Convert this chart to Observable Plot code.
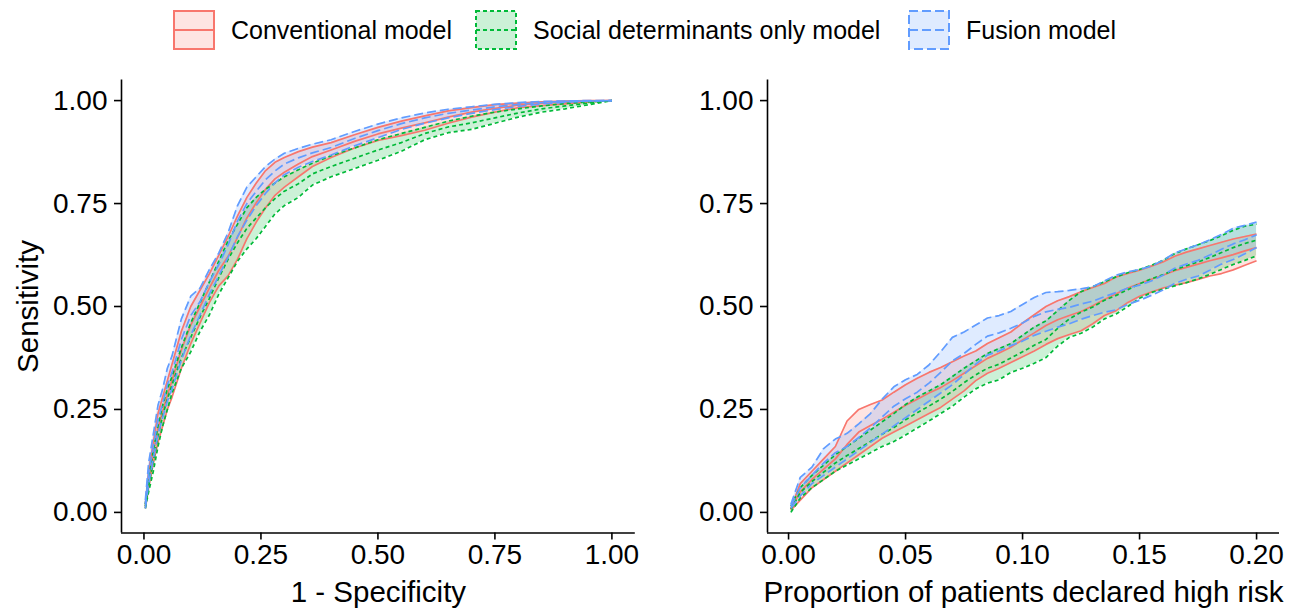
<!DOCTYPE html>
<html><head><meta charset="utf-8">
<script src="https://cdn.jsdelivr.net/npm/d3@7"></script>
<script src="https://cdn.jsdelivr.net/npm/@observablehq/plot@0.6"></script>
<style>
body{margin:0;background:#fff;font-family:"Liberation Sans",Arial,sans-serif;}
#wrap{position:relative;width:1310px;height:609px;overflow:hidden;}
#legend{position:relative;height:60px;}
.item{position:absolute;top:10px;display:flex;align-items:center;height:40px;}
.item span{font-size:25px;margin-left:16px;color:#000;white-space:nowrap;}
#row{display:flex;}
#row svg{display:block;}
</style></head><body>
<div id="wrap"><div id="legend"></div><div id="row"></div></div>
<script>
// ---------- legend / series ----------
const modelNames = ["Conventional model", "Social determinants only model", "Fusion model"];
const modelColors = ["#F8766D", "#00BA38", "#619CFF"];
const modelDashes = ["none", "4,3", "9,4"];

// ---------- left panel: ROC (1 - specificity vs sensitivity) ----------
const rocFpr = [0.003, 0.01, 0.02, 0.03, 0.04, 0.05, 0.06, 0.08, 0.10, 0.12, 0.14, 0.16, 0.18, 0.20, 0.22, 0.24, 0.26, 0.28, 0.30, 0.33, 0.36, 0.40, 0.45, 0.50, 0.55, 0.60, 0.65, 0.70, 0.75, 0.80, 0.85, 0.90, 0.95, 1.00];
const rocConvLow  = [0.01, 0.06, 0.12, 0.17, 0.21, 0.25, 0.28, 0.35, 0.41, 0.46, 0.51, 0.55, 0.575, 0.615, 0.665, 0.705, 0.74, 0.77, 0.79, 0.815, 0.84, 0.862, 0.885, 0.903, 0.915, 0.928, 0.945, 0.96, 0.972, 0.983, 0.988, 0.992, 0.997, 1.0];
const rocConvMean = [0.015, 0.08, 0.145, 0.205, 0.245, 0.285, 0.32, 0.395, 0.455, 0.50, 0.545, 0.588, 0.622, 0.668, 0.715, 0.752, 0.785, 0.81, 0.826, 0.846, 0.864, 0.88, 0.901, 0.919, 0.933, 0.946, 0.96, 0.972, 0.981, 0.989, 0.993, 0.996, 0.999, 1.0];
const rocConvHigh = [0.02, 0.10, 0.17, 0.24, 0.28, 0.32, 0.36, 0.44, 0.50, 0.54, 0.58, 0.625, 0.67, 0.72, 0.765, 0.80, 0.83, 0.85, 0.862, 0.876, 0.887, 0.898, 0.917, 0.935, 0.95, 0.963, 0.975, 0.983, 0.99, 0.994, 0.997, 0.999, 1.0, 1.0];
const rocSdohLow  = [0.01, 0.05, 0.10, 0.16, 0.21, 0.25, 0.29, 0.35, 0.39, 0.44, 0.48, 0.53, 0.57, 0.61, 0.64, 0.665, 0.695, 0.725, 0.745, 0.765, 0.795, 0.815, 0.835, 0.855, 0.877, 0.905, 0.922, 0.93, 0.945, 0.96, 0.972, 0.98, 0.99, 1.0];
const rocSdohMean = [0.015, 0.065, 0.125, 0.185, 0.235, 0.275, 0.31, 0.375, 0.425, 0.475, 0.52, 0.57, 0.615, 0.655, 0.69, 0.715, 0.74, 0.762, 0.78, 0.798, 0.822, 0.84, 0.86, 0.88, 0.898, 0.92, 0.936, 0.946, 0.958, 0.97, 0.98, 0.987, 0.994, 1.0];
const rocSdohHigh = [0.02, 0.08, 0.15, 0.21, 0.26, 0.30, 0.33, 0.40, 0.46, 0.51, 0.56, 0.61, 0.66, 0.70, 0.74, 0.765, 0.785, 0.80, 0.815, 0.832, 0.848, 0.866, 0.885, 0.905, 0.92, 0.935, 0.95, 0.962, 0.972, 0.98, 0.987, 0.993, 0.997, 1.0];
const rocFusLow   = [0.01, 0.07, 0.13, 0.19, 0.23, 0.27, 0.30, 0.37, 0.43, 0.48, 0.53, 0.575, 0.62, 0.67, 0.71, 0.745, 0.775, 0.80, 0.82, 0.838, 0.852, 0.868, 0.89, 0.91, 0.93, 0.945, 0.958, 0.969, 0.978, 0.986, 0.992, 0.996, 0.999, 1.0];
const rocFusMean  = [0.02, 0.095, 0.16, 0.225, 0.265, 0.31, 0.34, 0.42, 0.478, 0.512, 0.56, 0.602, 0.65, 0.708, 0.75, 0.78, 0.808, 0.829, 0.846, 0.861, 0.873, 0.886, 0.908, 0.927, 0.944, 0.958, 0.969, 0.977, 0.985, 0.991, 0.995, 0.998, 0.999, 1.0];
const rocFusHigh  = [0.03, 0.12, 0.19, 0.26, 0.30, 0.35, 0.38, 0.47, 0.525, 0.545, 0.59, 0.63, 0.68, 0.745, 0.79, 0.815, 0.84, 0.858, 0.872, 0.884, 0.894, 0.905, 0.925, 0.943, 0.958, 0.97, 0.979, 0.985, 0.991, 0.995, 0.998, 0.999, 1.0, 1.0];

// ---------- right panel: proportion declared high risk vs sensitivity ----------
const propX = [0.001, 0.005, 0.010, 0.015, 0.020, 0.025, 0.030, 0.035, 0.040, 0.045, 0.050, 0.055, 0.060, 0.065, 0.070, 0.075, 0.080, 0.085, 0.090, 0.095, 0.100, 0.105, 0.110, 0.115, 0.120, 0.125, 0.130, 0.135, 0.140, 0.145, 0.150, 0.155, 0.160, 0.165, 0.170, 0.175, 0.180, 0.185, 0.190, 0.195, 0.200];
const propConvLow  = [0.005, 0.03, 0.06, 0.08, 0.10, 0.12, 0.14, 0.16, 0.18, 0.195, 0.21, 0.225, 0.24, 0.255, 0.275, 0.295, 0.32, 0.338, 0.35, 0.364, 0.378, 0.392, 0.408, 0.422, 0.432, 0.441, 0.458, 0.478, 0.49, 0.51, 0.525, 0.535, 0.545, 0.552, 0.558, 0.566, 0.574, 0.58, 0.589, 0.6, 0.611];
const propConvMean = [0.008, 0.05, 0.08, 0.105, 0.13, 0.165, 0.195, 0.211, 0.226, 0.243, 0.26, 0.275, 0.29, 0.303, 0.32, 0.338, 0.356, 0.374, 0.387, 0.401, 0.419, 0.436, 0.454, 0.468, 0.478, 0.488, 0.502, 0.517, 0.531, 0.545, 0.556, 0.566, 0.576, 0.587, 0.595, 0.603, 0.611, 0.618, 0.626, 0.635, 0.643];
const propConvHigh = [0.01, 0.07, 0.10, 0.13, 0.16, 0.222, 0.25, 0.262, 0.273, 0.292, 0.31, 0.326, 0.34, 0.352, 0.366, 0.38, 0.392, 0.41, 0.424, 0.438, 0.46, 0.48, 0.5, 0.514, 0.524, 0.536, 0.546, 0.556, 0.572, 0.58, 0.588, 0.598, 0.608, 0.622, 0.632, 0.64, 0.648, 0.656, 0.664, 0.67, 0.676];
const propSdohLow  = [0.0, 0.035, 0.06, 0.08, 0.10, 0.115, 0.13, 0.145, 0.16, 0.172, 0.188, 0.205, 0.222, 0.24, 0.258, 0.28, 0.3, 0.314, 0.322, 0.34, 0.35, 0.362, 0.376, 0.404, 0.425, 0.435, 0.45, 0.47, 0.482, 0.5, 0.52, 0.534, 0.542, 0.55, 0.558, 0.567, 0.578, 0.59, 0.602, 0.612, 0.623];
const propSdohMean = [0.008, 0.048, 0.075, 0.098, 0.12, 0.138, 0.155, 0.172, 0.19, 0.206, 0.225, 0.242, 0.258, 0.275, 0.294, 0.315, 0.334, 0.35, 0.36, 0.375, 0.39, 0.406, 0.42, 0.447, 0.47, 0.486, 0.499, 0.515, 0.527, 0.541, 0.555, 0.567, 0.577, 0.589, 0.599, 0.608, 0.619, 0.631, 0.643, 0.653, 0.661];
const propSdohHigh = [0.015, 0.06, 0.09, 0.115, 0.14, 0.16, 0.18, 0.20, 0.22, 0.24, 0.262, 0.28, 0.295, 0.31, 0.33, 0.35, 0.368, 0.386, 0.398, 0.41, 0.43, 0.45, 0.465, 0.49, 0.515, 0.536, 0.548, 0.56, 0.572, 0.582, 0.59, 0.6, 0.612, 0.628, 0.64, 0.65, 0.66, 0.672, 0.685, 0.695, 0.70];
const propFusLow   = [0.01, 0.04, 0.07, 0.09, 0.11, 0.13, 0.15, 0.17, 0.19, 0.21, 0.23, 0.25, 0.27, 0.29, 0.31, 0.335, 0.36, 0.382, 0.392, 0.405, 0.416, 0.43, 0.44, 0.45, 0.458, 0.469, 0.478, 0.486, 0.492, 0.505, 0.515, 0.527, 0.54, 0.556, 0.566, 0.574, 0.588, 0.603, 0.614, 0.628, 0.643];
const propFusMean  = [0.015, 0.06, 0.09, 0.12, 0.145, 0.16, 0.182, 0.205, 0.232, 0.258, 0.276, 0.292, 0.314, 0.34, 0.368, 0.386, 0.408, 0.428, 0.436, 0.447, 0.46, 0.476, 0.487, 0.493, 0.498, 0.506, 0.513, 0.524, 0.534, 0.545, 0.552, 0.562, 0.576, 0.593, 0.603, 0.612, 0.625, 0.639, 0.652, 0.662, 0.674];
const propFusHigh  = [0.02, 0.085, 0.11, 0.155, 0.178, 0.192, 0.215, 0.24, 0.275, 0.305, 0.322, 0.335, 0.358, 0.39, 0.425, 0.438, 0.455, 0.472, 0.478, 0.488, 0.505, 0.522, 0.534, 0.536, 0.539, 0.543, 0.548, 0.562, 0.576, 0.584, 0.59, 0.598, 0.612, 0.63, 0.64, 0.65, 0.662, 0.675, 0.69, 0.697, 0.705];

// ---------- ticks ----------
const rocXTicks = [0, 0.25, 0.5, 0.75, 1];
const propXTicks = [0, 0.05, 0.1, 0.15, 0.2];
const sensTicks = [0, 0.25, 0.5, 0.75, 1];

// ---------- build tables ----------
function buildRows(xs, series) {
  const rows = [];
  series.forEach(([low, mean, high], m) => {
    xs.forEach((x, i) => rows.push({model: modelNames[m], x, low: low[i], mean: mean[i], high: high[i]}));
  });
  return rows;
}
const rocRows = buildRows(rocFpr, [[rocConvLow, rocConvMean, rocConvHigh], [rocSdohLow, rocSdohMean, rocSdohHigh], [rocFusLow, rocFusMean, rocFusHigh]]);
const propRows = buildRows(propX, [[propConvLow, propConvMean, propConvHigh], [propSdohLow, propSdohMean, propSdohHigh], [propFusLow, propFusMean, propFusHigh]]);

const FONT = '"Liberation Sans", Arial, Helvetica, sans-serif';
const fmt = d3.format(".2f");

function seriesMarks(rows) {
  const areas = [], lines = [];
  modelNames.forEach((name, m) => {
    const d = rows.filter(r => r.model === name);
    areas.push(Plot.areaY(d, {x: "x", y1: "low", y2: "high", fill: modelColors[m], fillOpacity: 0.2}));
    for (const key of ["low", "mean", "high"]) {
      lines.push(Plot.line(d, {x: "x", y: key, stroke: modelColors[m], strokeWidth: 1.7,
        strokeDasharray: modelDashes[m] === "none" ? null : modelDashes[m], strokeLinecap: "butt", strokeLinejoin: "round"}));
    }
  });
  return [...areas, ...lines];
}

function panel({rows, width, marginLeft, marginRight, xDomain, xTicks, xLabel, yLabel}) {
  const yDomain = [-0.05, 1.05];
  const marks = [
    ...seriesMarks(rows),
    Plot.ruleX([xDomain[0]], {stroke: "#000", strokeWidth: 1.6}),
    Plot.ruleY([yDomain[0]], {stroke: "#000", strokeWidth: 1.6}),
    Plot.axisX({ticks: xTicks, tickFormat: fmt, tickSize: 7, tickPadding: 4, fontSize: 28, label: null, stroke: "#000", strokeWidth: 1.6, fill: "#000"}),
    Plot.axisY({ticks: sensTicks, tickFormat: fmt, tickSize: 7, tickPadding: 7, fontSize: 28, label: null, stroke: "#000", strokeWidth: 1.6, fill: "#000"}),
    Plot.text([xLabel], {frameAnchor: "bottom", dy: 59.5, text: d => d, fontSize: 29.5, textAnchor: "middle", lineAnchor: "middle", fill: "#000"})
  ];
  if (yLabel) marks.push(Plot.text([yLabel], {frameAnchor: "left", dx: -93, rotate: -90, text: d => d, fontSize: 29.5, textAnchor: "middle", lineAnchor: "middle", fill: "#000"}));
  return Plot.plot({
    width, height: 549, marginTop: 19.5, marginBottom: 76.5, marginLeft, marginRight,
    style: {fontFamily: FONT, fontSize: "28px", color: "#000", background: "#fff", overflow: "visible"},
    x: {domain: xDomain}, y: {domain: yDomain},
    marks
  });
}

const row = document.getElementById("row");
row.append(panel({rows: rocRows, width: 655, marginLeft: 121, marginRight: 20.2, xDomain: [-0.048, 1.05], xTicks: rocXTicks, xLabel: "1 - Specificity", yLabel: "Sensitivity"}));
row.append(panel({rows: propRows, width: 655, marginLeft: 112, marginRight: 31, xDomain: [-0.009, 0.2098], xTicks: propXTicks, xLabel: "Proportion of patients declared high risk", yLabel: null}));

// ---------- legend ----------
const legend = document.getElementById("legend");
const legendLeft = [173, 475, 908];
modelNames.forEach((name, m) => {
  const item = document.createElement("div");
  item.className = "item";
  item.style.left = legendLeft[m] + "px";
  const dash = modelDashes[m] === "none" ? "" : `stroke-dasharray="${modelDashes[m]}"`;
  item.innerHTML = `<svg width="42" height="40" style="display:block">
    <rect x="1" y="1" width="40" height="38" fill="${modelColors[m]}" fill-opacity="0.2" stroke="${modelColors[m]}" stroke-width="2" ${dash}></rect>
    <line x1="1" x2="41" y1="20" y2="20" stroke="${modelColors[m]}" stroke-width="2" ${dash}></line>
  </svg><span>${name}</span>`;
  legend.append(item);
});
</script></body></html>
